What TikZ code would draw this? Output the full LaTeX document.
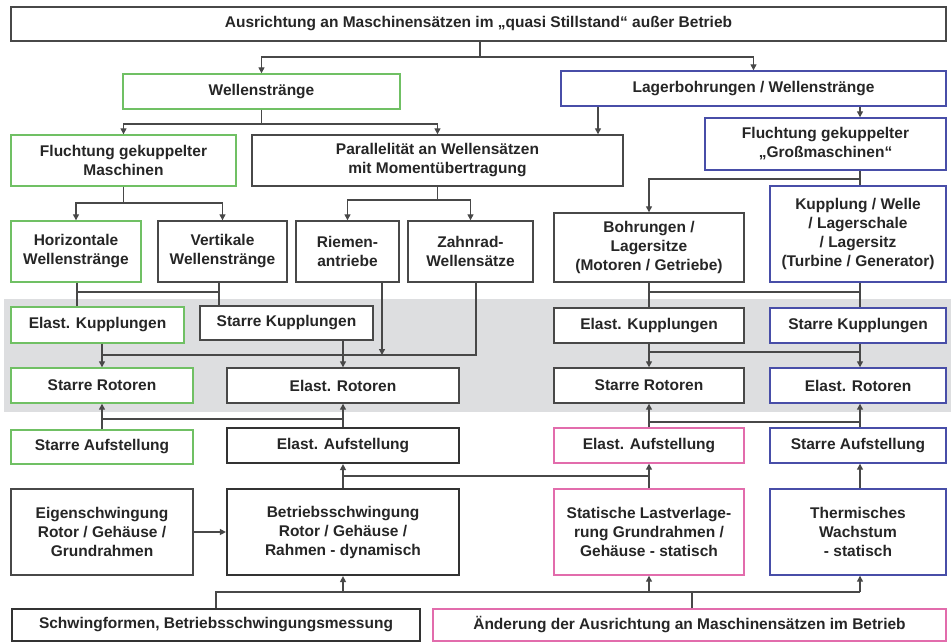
\documentclass[tikz,border=0pt]{standalone}
\usepackage{fontspec}
\setmainfont{Liberation Sans}
\usetikzlibrary{arrows.meta}
\definecolor{cgreen}{RGB}{112,192,100}
\definecolor{cblue}{RGB}{72,78,168}
\definecolor{cpink}{RGB}{226,108,172}
\definecolor{cline}{RGB}{72,72,72}
\definecolor{cband}{RGB}{221,222,224}
\definecolor{ctext}{RGB}{38,38,38}
\begin{document}
\begin{tikzpicture}[x=1pt,y=-1pt,
 box/.style={draw=cline, line width=1.4pt, fill=white, inner sep=0pt, align=center,
   font=\bfseries\fontsize{15.5}{19}\selectfont, text=ctext},
 gbox/.style={box, draw=cgreen},
 bbox/.style={box, draw=cblue},
 pbox/.style={box, draw=cpink},
 kbox/.style={box, draw=black!80, line width=2.2pt},
 conn/.style={draw=cline, line width=1.3pt},
 arr/.style={conn, -{Triangle[length=6pt,width=6pt]}},
]
\useasboundingbox (0,0) rectangle (951,643);
\fill[cband] (4,299) rectangle (951,412);

% boxes
\node[box, minimum width=935pt, minimum height=34pt] (top) at (478.5,24) {Ausrichtung an Maschinensätzen im „quasi Stillstand“ außer Betrieb};
\node[gbox, minimum width=277pt, minimum height=35pt] (well) at (261.5,91.5) {Wellenstränge};
\node[bbox, minimum width=385pt, minimum height=35pt] (lager) at (753.5,88.5) {Lagerbohrungen / Wellenstränge};
\node[gbox, minimum width=225pt, minimum height=51pt] (fgm) at (123.5,160.5) {Fluchtung gekuppelter\\Maschinen};
\node[box, minimum width=371pt, minimum height=51pt] (par) at (437.5,160.5) {Parallelität an Wellensätzen\\mit Momentübertragung};
\node[bbox, minimum width=241pt, minimum height=52pt] (fgg) at (825.5,144) {Fluchtung gekuppelter\\„Großmaschinen“};
\node[gbox, minimum width=130pt, minimum height=61pt] (hor) at (76,251.5) {Horizontale\\Wellenstränge};
\node[box, minimum width=129pt, minimum height=61pt] (ver) at (222.5,251.5) {Vertikale\\Wellenstränge};
\node[box, minimum width=103pt, minimum height=61pt] (rie) at (347.5,251.5) {Riemen-\\antriebe};
\node[box, minimum width=125pt, minimum height=61pt] (zah) at (470.5,251.5) {Zahnrad-\\Wellensätze};
\node[box, minimum width=190pt, minimum height=69pt] (boh) at (649,247.5) {Bohrungen /\\Lagersitze\\(Motoren / Getriebe)};
\node[bbox, minimum width=176pt, minimum height=96pt] (kup) at (858,234) {Kupplung / Welle\\/ Lagerschale\\/ Lagersitz\\(Turbine / Generator)};

\node[gbox, minimum width=173pt, minimum height=36pt] (ekl) at (97.5,325) {Elast. Kupplungen};
\node[box, minimum width=173pt, minimum height=34pt] (skl) at (286.5,323) {Starre Kupplungen};
\node[box, minimum width=190pt, minimum height=35pt] (ekr) at (649,325.5) {Elast. Kupplungen};
\node[bbox, minimum width=176pt, minimum height=35pt] (skr) at (858,325.5) {Starre Kupplungen};

\node[gbox, minimum width=182pt, minimum height=35pt] (srl) at (102,385.5) {Starre Rotoren};
\node[box, minimum width=232pt, minimum height=35pt] (erl) at (343,385.5) {Elast. Rotoren};
\node[box, minimum width=190pt, minimum height=35pt] (srr) at (649,385.5) {Starre Rotoren};
\node[bbox, minimum width=176pt, minimum height=35pt] (err) at (858,385.5) {Elast. Rotoren};

\node[gbox, minimum width=182pt, minimum height=34pt] (sal) at (102,447) {Starre Aufstellung};
\node[kbox, minimum width=232pt, minimum height=35pt] (eal) at (343,445.5) {Elast. Aufstellung};
\node[pbox, minimum width=190pt, minimum height=35pt] (ear) at (649,445.5) {Elast. Aufstellung};
\node[bbox, minimum width=176pt, minimum height=35pt] (sar) at (858,445.5) {Starre Aufstellung};

\node[box, minimum width=182pt, minimum height=86pt] (eig) at (102,532) {Eigenschwingung\\Rotor / Gehäuse /\\Grundrahmen};
\node[kbox, minimum width=232pt, minimum height=86pt] (bet) at (343,532) {Betriebsschwingung\\Rotor / Gehäuse /\\Rahmen - dynamisch};
\node[pbox, minimum width=190pt, minimum height=86pt] (sta) at (649,532) {Statische Lastverlage-\\rung Grundrahmen /\\Gehäuse - statisch};
\node[bbox, minimum width=176pt, minimum height=86pt] (the) at (858,532) {Thermisches\\Wachstum\\- statisch};

\node[kbox, minimum width=408pt, minimum height=32pt] (sch) at (216,625) {Schwingformen, Betriebsschwingungsmessung};
\node[pbox, minimum width=513pt, minimum height=32pt] (aen) at (689.5,625) {Änderung der Ausrichtung an Maschinensätzen im Betrieb};

% helper coordinates
\coordinate (j1) at (480,57);
\coordinate (y2) at (0,124);
\coordinate (y3) at (0,179);
\coordinate (y4) at (0,203);
\coordinate (y4b) at (0,200);
\coordinate (y5) at (0,292);
\coordinate (y6) at (0,355);
\coordinate (y7) at (0,352);
\coordinate (y8) at (0,419);
\coordinate (y9) at (0,422);
\coordinate (y10) at (0,476);
\coordinate (y11) at (0,592);
\coordinate (lx1) at (598,0);
\coordinate (lx2) at (860,0);
\coordinate (hx) at (77,0);
\coordinate (vx) at (219,0);
\coordinate (ax) at (102,0);
\coordinate (bx) at (343,0);
\coordinate (rx) at (382,0);
\coordinate (zx) at (476,0);
\coordinate (ex) at (692,0);

% connectors
\draw[conn] (top.south -| j1) -- (j1);
\draw[arr] (j1) -| (well.north);
\draw[arr] (j1) -| (lager.north);

\draw[conn] (well.south) -- (well.south |- y2);
\draw[arr] (well.south |- y2) -| (fgm.north);
\draw[arr] (well.south |- y2) -| (par.north);

\draw[arr] (lager.south -| lx1) -- (par.north -| lx1);
\draw[arr] (lager.south -| lx2) -- (fgg.north -| lx2);
\draw[conn] (fgg.south -| lx2) -- (kup.north -| lx2);
\draw[arr] (lx2 |- y3) -| (boh.north);

\draw[conn] (fgm.south) -- (fgm.south |- y4);
\draw[arr] (fgm.south |- y4) -| (hor.north);
\draw[arr] (fgm.south |- y4) -| (ver.north);
\draw[conn] (par.south) -- (par.south |- y4b);
\draw[arr] (par.south |- y4b) -| (rie.north);
\draw[arr] (par.south |- y4b) -| (zah.north);

\draw[conn] (hor.south -| hx) -- (ekl.north -| hx);
\draw[conn] (ver.south -| vx) -- (skl.north -| vx);
\draw[conn] (hx |- y5) -- (vx |- y5);
\draw[conn] (boh.south) -- (ekr.north);
\draw[conn] (kup.south -| lx2) -- (skr.north -| lx2);
\draw[conn] (boh.south |- y5) -- (lx2 |- y5);

\draw[arr] (ekl.south -| ax) -- (srl.north);
\draw[arr] (skl.south -| bx) -- (erl.north);
\draw[arr] (rie.south -| rx) -- (rx |- y6);
\draw[conn] (zah.south -| zx) -- (zx |- y6) -- (ax |- y6);
\draw[arr] (ekr.south) -- (srr.north);
\draw[arr] (skr.south -| lx2) -- (err.north -| lx2);
\draw[conn] (ekr.south |- y7) -- (lx2 |- y7);

\draw[arr] (sal.north) -- (srl.south);
\draw[arr] (eal.north) -- (erl.south);
\draw[conn] (ax |- y8) -- (bx |- y8);
\draw[arr] (ear.north) -- (srr.south);
\draw[arr] (sar.north -| lx2) -- (err.south -| lx2);
\draw[conn] (ear.north |- y9) -- (lx2 |- y9);

\draw[arr] (eig.east) -- (bet.west);
\draw[arr] (bet.north) -- (eal.south);
\draw[arr] (sta.north) -- (ear.south);
\draw[conn] (bet.north |- y10) -- (sta.north |- y10);
\draw[arr] (the.north -| lx2) -- (sar.south -| lx2);

\draw[conn] (sch.north) -- (sch.north |- y11) -- (lx2 |- y11);
\draw[conn] (aen.north -| ex) -- (ex |- y11);
\draw[arr] (bet.south |- y11) -- (bet.south);
\draw[arr] (sta.south |- y11) -- (sta.south);
\draw[arr] (lx2 |- y11) -- (the.south -| lx2);
\end{tikzpicture}
\end{document}
